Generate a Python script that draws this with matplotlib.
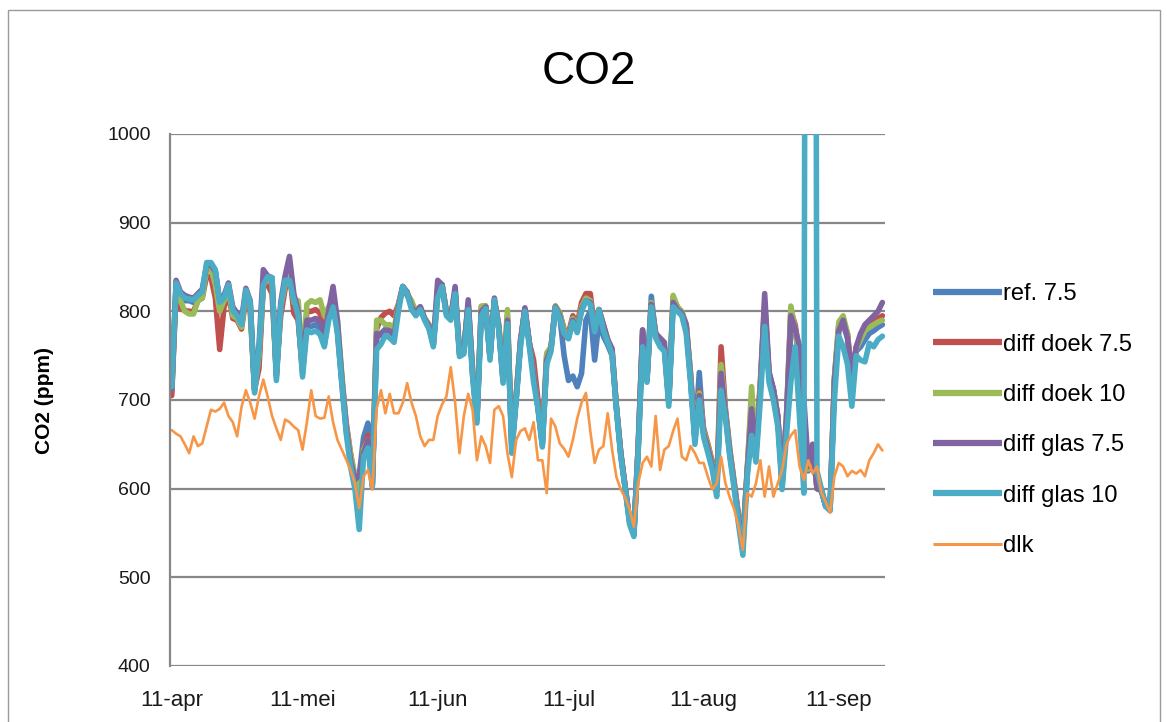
import matplotlib
matplotlib.use("Agg")
import matplotlib.pyplot as plt
from matplotlib.patches import Rectangle
import numpy as np

plt.rcParams['font.family'] = ['Liberation Sans', 'DejaVu Sans']

# ---- data (daily values from 11-apr onwards) ----
tick_days = [0, 30, 61, 91, 122, 153]
tick_labels = ["11-apr", "11-mei", "11-jun", "11-jul", "11-aug", "11-sep"]
y_ticks = [400, 500, 600, 700, 800, 900, 1000]

ref_75 = [710,828,815,812,812,810,815,818,850,850,
          845,808,812,828,800,792,785,822,808,712,
          745,832,838,835,728,805,833,850,808,792,
          730,785,783,785,780,762,795,815,778,720,
          668,632,612,615,658,674,604,770,775,780,
          780,775,805,828,820,805,798,802,792,782,
          762,820,830,797,792,822,752,755,806,730,
          678,800,806,748,812,782,722,790,645,702,
          765,802,765,730,692,650,745,758,805,795,
          750,722,727,715,730,790,800,745,790,772,
          762,750,690,638,602,565,550,648,770,722,
          817,772,765,758,698,810,802,797,780,725,
          655,731,662,645,628,600,725,685,640,605,
          568,545,620,680,640,715,800,728,712,680,
          605,670,780,780,740,650,620,640,605,598,
          580,578,720,780,785,770,720,755,760,768,
          775,778,782,785]

diff_doek_75 = [705,825,803,801,800,800,812,815,840,838,
                815,757,805,820,792,790,780,815,800,712,
                735,828,830,820,731,795,825,845,798,790,
                735,800,800,802,798,770,800,815,780,725,
                675,640,612,600,645,660,605,780,793,798,
                800,795,808,828,818,810,800,805,792,785,
                765,825,830,800,795,822,755,758,808,735,
                680,805,806,750,812,785,725,795,650,705,
                768,802,765,745,700,655,750,760,806,798,
                780,775,795,785,810,820,820,780,802,785,
                768,755,692,640,602,565,550,648,779,725,
                808,775,768,760,700,815,805,798,785,730,
                660,710,668,650,630,600,760,690,645,608,
                570,540,622,700,645,720,810,730,712,682,
                608,680,800,785,750,680,625,650,600,598,
                582,578,725,785,790,775,725,760,770,780,
                785,790,792,795]

diff_doek_10 = [712,830,812,800,797,797,812,815,848,848,
                830,800,812,825,795,792,782,820,805,710,
                750,830,836,832,725,805,830,848,810,812,
                740,808,812,810,813,795,805,815,790,730,
                672,640,615,590,644,655,604,790,790,785,
                785,780,808,828,820,812,798,805,792,785,
                765,820,830,800,795,822,755,758,808,735,
                680,806,806,750,812,785,725,802,650,705,
                765,802,765,730,692,650,753,760,806,798,
                778,772,792,780,805,815,812,780,802,782,
                768,755,692,640,602,565,550,648,775,725,
                810,775,765,760,700,818,805,800,785,730,
                658,708,665,648,628,598,740,688,642,606,
                568,540,620,715,642,715,805,730,712,682,
                605,680,806,780,745,670,622,648,600,598,
                582,578,725,788,795,775,720,758,768,778,
                782,785,788,790]

diff_glas_75 = [712,835,822,818,816,815,820,825,852,852,
                845,812,818,832,805,798,790,826,812,712,
                760,847,840,838,728,810,840,862,820,800,
                738,790,790,792,788,775,800,828,790,725,
                670,632,610,615,640,655,604,775,773,778,
                778,772,805,828,822,805,798,805,792,783,
                762,835,830,798,792,828,752,755,813,730,
                678,800,805,748,815,782,722,790,645,702,
                765,804,765,728,692,650,745,758,805,795,
                772,770,790,778,802,812,810,778,802,785,
                768,758,692,640,602,563,550,648,779,722,
                808,775,770,765,698,810,802,798,785,725,
                655,705,662,645,625,596,730,685,640,604,
                565,535,618,690,640,710,820,732,712,682,
                605,680,795,780,760,700,625,650,600,598,
                580,576,722,778,790,770,727,760,775,785,
                790,795,800,810]

diff_glas_10 = [715,832,820,815,814,813,818,822,855,855,
                847,810,815,830,801,795,785,824,810,708,
                757,830,839,838,722,805,835,835,813,795,
                726,779,776,778,774,760,790,805,775,719,
                663,625,600,554,636,646,602,757,763,773,
                770,765,800,828,820,802,795,802,790,780,
                760,815,828,795,790,820,749,752,802,726,
                674,795,803,745,813,779,719,786,640,699,
                760,800,761,720,690,647,740,755,804,792,
                775,769,788,776,800,812,808,777,802,779,
                765,752,689,636,600,560,546,643,760,720,
                805,770,760,755,693,805,800,795,775,720,
                650,700,658,640,621,591,711,680,636,600,
                560,525,613,660,630,700,783,720,700,670,
                599,660,720,760,680,595,3000,3000,620,600,
                580,575,700,772,760,740,693,750,745,743,
                764,760,768,772]

dlk = [666,662,659,650,640,659,648,651,670,689,
       687,690,697,682,675,659,692,711,697,679,
       704,723,704,682,668,655,678,675,670,666,
       644,675,711,682,679,680,704,675,655,644,
       633,621,606,578,614,621,599,690,711,685,
       707,685,685,697,719,697,682,659,648,655,
       655,682,695,704,737,697,640,682,707,689,
       632,659,648,629,689,693,682,640,613,655,
       665,668,655,675,632,632,595,679,670,651,
       645,636,655,679,697,708,665,629,644,648,
       685,644,613,599,590,577,557,606,629,636,
       625,682,621,644,648,665,679,636,632,648,
       640,629,629,613,599,606,636,606,590,577,
       557,531,595,591,606,632,591,625,591,606,
       621,650,660,666,625,610,632,617,625,596,
       585,573,614,629,625,614,620,617,621,614,
       632,640,650,643]

series = [
    ("ref. 7.5", ref_75, "#4F81BD", 4.0),
    ("diff doek 7.5", diff_doek_75, "#C0504D", 4.0),
    ("diff doek 10", diff_doek_10, "#9BBB59", 4.0),
    ("diff glas 7.5", diff_glas_75, "#8064A2", 4.0),
    ("diff glas 10", diff_glas_10, "#4BACC6", 4.0),
    ("dlk", dlk, "#F79646", 1.9),
]

W, H = 1167, 722
fig = plt.figure(figsize=(W / 100, H / 100), dpi=100)
fig.patch.set_facecolor("white")

# outer chart border
fig.add_artist(Rectangle((8 / W, -0.02), (1160 - 8) / W, 1.02 - 10 / H,
                         transform=fig.transFigure, fill=False,
                         edgecolor="#9a9a9a", linewidth=1.0))

ax = fig.add_axes([170 / W, 1 - 666 / H, 715 / W, (666 - 134) / H])
ax.set_facecolor("white")

for name, vals, col, lw in series:
    x = np.arange(len(vals))
    ax.plot(x, vals, color=col, linewidth=lw, label=name,
            solid_joinstyle="round", solid_capstyle="round")

ax.set_ylim(400, 1000)
ax.set_xlim(-0.4, 163.6)
ax.set_yticks(y_ticks)
ax.set_xticks(tick_days)
ax.set_xticklabels(tick_labels)
ax.yaxis.grid(True, color="#878787", linewidth=1.6)
ax.set_axisbelow(True)
for s in ["top", "right", "bottom"]:
    ax.spines[s].set_visible(False)
ax.spines["left"].set_color("#878787")
ax.spines["left"].set_linewidth(1.6)
ax.tick_params(axis="y", length=0, pad=14, labelsize=14, colors="#1a1a1a")
ax.tick_params(axis="x", length=0, pad=17, labelsize=16, colors="#1a1a1a")

fig.text(589 / W, 1 - 72 / H, "CO2", ha="center", va="center", fontsize=33)
fig.text(45 / W, 1 - 400 / H, "CO2 (ppm)", rotation=90, ha="center",
         va="center", fontsize=15, fontweight="bold")

leg = fig.legend(loc="upper left", bbox_to_anchor=(912 / W, 1 - 262 / H),
                 frameon=False, fontsize=17, handlelength=2.9,
                 handletextpad=0.05, labelspacing=1.2)
for line in leg.get_lines():
    line.set_linewidth(4.5 if line.get_color() != "#F79646" else 2.2)
    line.set_solid_capstyle("butt")

fig.savefig("out.png", dpi=100, facecolor="white")
